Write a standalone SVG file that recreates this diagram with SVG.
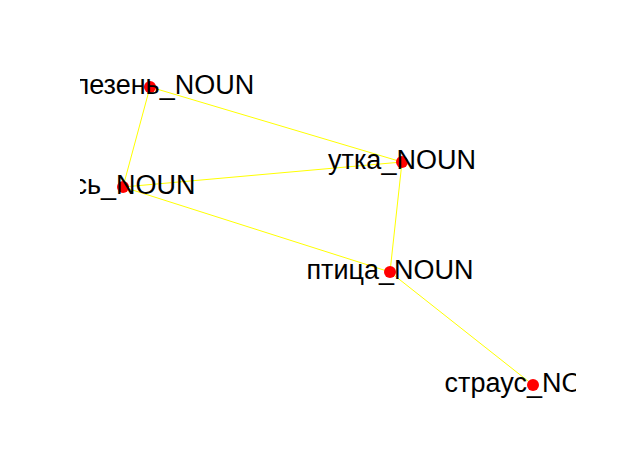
<svg xmlns="http://www.w3.org/2000/svg" width="640" height="468" viewBox="0 0 640 468">
<defs>
<clipPath id="ax"><rect x="80" y="56" width="496" height="356"/></clipPath>
<style>
.e{stroke:#ffff00;stroke-width:1;fill:none}
.n{fill:#ff0000}
.t{font-family:"Liberation Sans",Arial,sans-serif;font-size:27px;fill:#000;text-anchor:middle}
</style>
</defs>
<rect width="640" height="468" fill="#fff"/>
<g id="edges">
<line class="e" x1="150" y1="87" x2="123" y2="187"/>
<line class="e" x1="150" y1="87" x2="402" y2="162"/>
<line class="e" x1="123" y1="187" x2="402" y2="162"/>
<line class="e" x1="123" y1="187" x2="390" y2="272"/>
<line class="e" x1="402" y1="162" x2="390" y2="272"/>
<line class="e" x1="390" y1="272" x2="533" y2="385"/>
</g>
<g clip-path="url(#ax)">
<g id="n-selezen"><circle class="n" cx="150" cy="87" r="6"/><text class="t" x="150" y="94">селезень_NOUN</text></g>
<g id="n-gus"><circle class="n" cx="123" cy="187" r="6"/><text class="t" x="123" y="194">гусь_NOUN</text></g>
<g id="n-utka"><circle class="n" cx="402" cy="162" r="6"/><text class="t" x="402" y="169">утка_NOUN</text></g>
<g id="n-ptica"><circle class="n" cx="390" cy="272" r="6"/><text class="t" x="390" y="279">птица_NOUN</text></g>
<g id="n-straus"><circle class="n" cx="533" cy="385" r="6"/><text class="t" x="533" y="392">страус_NOUN</text></g>
</g>
</svg>
